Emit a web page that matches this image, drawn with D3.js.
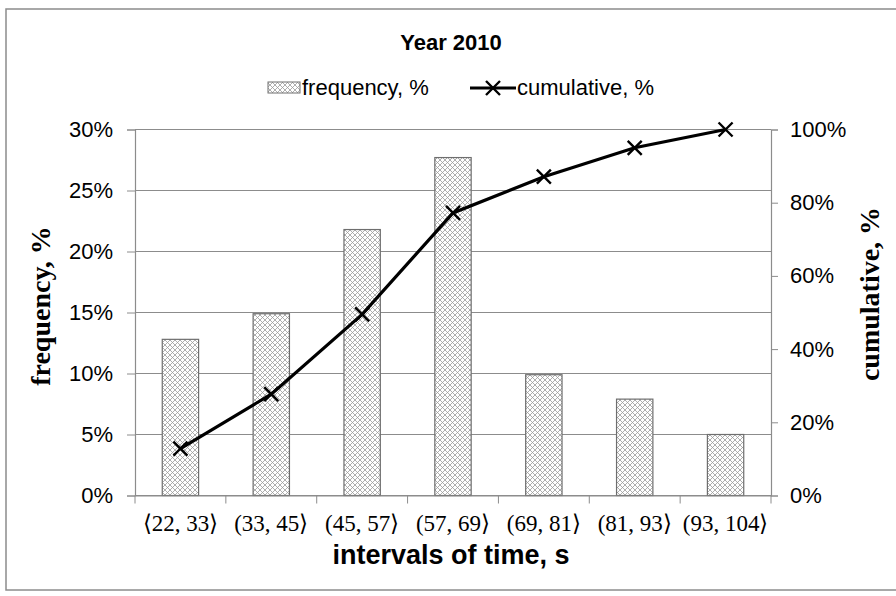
<!DOCTYPE html>
<html>
<head>
<meta charset="utf-8">
<script src="https://cdn.jsdelivr.net/npm/d3@7"></script>
<style>
  body { margin: 0; background: #fff; }
  text { font-family: "Liberation Sans", Arial, sans-serif; }
</style>
</head>
<body>
<svg width="896" height="596"></svg>
<script>
// data
const intervals = ['\u27E822, 33\u27E9', '(33, 45\u27E9', '(45, 57\u27E9', '(57, 69\u27E9', '(69, 81\u27E9', '(81, 93\u27E9', '(93, 104\u27E9'];
const frequency = [12.8, 14.9, 21.8, 27.7, 9.9, 7.9, 5.0];
const cumulative = [12.8, 27.7, 49.5, 77.2, 87.1, 95.0, 100];
const leftTicks = [0, 5, 10, 15, 20, 25, 30];
const rightTicks = [0, 20, 40, 60, 80, 100];

const svg = d3.select('svg');
const plotL = 135, plotR = 771, plotT = 129.5, plotB = 495.5;
const grey = '#8c8c8c';

// hatch pattern for bars
const defs = svg.append('defs');
const pat = defs.append('pattern')
    .attr('id', 'hatch')
    .attr('patternUnits', 'userSpaceOnUse')
    .attr('width', 5).attr('height', 5);
pat.append('rect').attr('width', 5).attr('height', 5).attr('fill', '#fff');
pat.append('path').attr('d', 'M0,0 L5,5 M5,0 L0,5')
    .attr('stroke', '#9a9a9a').attr('stroke-width', 0.8);

// outer frame
svg.append('rect')
    .attr('x', 6).attr('y', 9).attr('width', 900).attr('height', 581)
    .attr('fill', 'none').attr('stroke', grey).attr('stroke-width', 1.5);

let xScale = d3.scaleBand()
    .domain(intervals)
    .range([plotL, plotR])
    .paddingInner(0.6).paddingOuter(0.3);

let xBounds = d3.scaleBand().domain(intervals).range([plotL, plotR]);

let yLeft = d3.scaleLinear().domain([0, 30]).range([plotB, plotT]);
let yRight = d3.scaleLinear().domain([0, 100]).range([plotB, plotT]);

// gridlines
svg.append('g')
    .selectAll('line')
    .data(leftTicks)
    .enter()
    .append('line')
        .attr('x1', plotL).attr('x2', plotR)
        .attr('y1', d => yLeft(d)).attr('y2', d => yLeft(d))
        .attr('stroke', grey).attr('stroke-width', 1);

// bars
svg.append('g')
    .selectAll('rect')
    .data(frequency)
    .enter()
    .append('rect')
        .attr('x', (d, i) => xScale(intervals[i]))
        .attr('y', d => yLeft(d))
        .attr('width', xScale.bandwidth())
        .attr('height', d => plotB - yLeft(d))
        .attr('fill', 'url(#hatch)')
        .attr('stroke', '#6e6e6e').attr('stroke-width', 1.2);

// axes
const yAxisL = d3.axisLeft(yLeft).tickValues(leftTicks).tickFormat(d => d + '%').tickSize(8).tickPadding(14);
const yAxisR = d3.axisRight(yRight).tickValues(rightTicks).tickFormat(d => d + '%').tickSize(7).tickPadding(12);
const xAxis = d3.axisBottom(xBounds).tickSize(0).tickPadding(0);

const gl = svg.append('g').attr('transform', 'translate(' + plotL + ',0)').call(yAxisL);
const gr = svg.append('g').attr('transform', 'translate(' + plotR + ',0)').call(yAxisR);
[gl, gr].forEach(g => {
    g.select('.domain').attr('stroke', grey).attr('stroke-width', 1.2);
    g.selectAll('.tick line').attr('stroke', grey);
    g.selectAll('.tick text')
        .attr('fill', '#000')
        .style('font-family', '"Liberation Sans", Arial, sans-serif')
        .style('font-size', '22px');
});

const gx = svg.append('g').attr('transform', 'translate(0,' + plotB + ')').call(xAxis);
gx.select('.domain').attr('stroke', grey).attr('stroke-width', 1.2);
gx.selectAll('.tick text')
    .attr('dy', null)
    .attr('y', 35)
    .attr('fill', '#000')
    .style('font-family', '"Liberation Serif", "Times New Roman", serif')
    .style('font-size', '23px');
// category boundary ticks
const bounds = intervals.map(d => xBounds(d)).concat([plotR]);
gx.selectAll('.bound')
    .data(bounds)
    .enter()
    .append('line')
        .attr('x1', d => d).attr('x2', d => d)
        .attr('y1', 0).attr('y2', 8)
        .attr('stroke', grey);

// cumulative line
const line = d3.line()
    .x((d, i) => xScale(intervals[i]) + xScale.bandwidth() / 2)
    .y(d => yRight(d));

svg.append('path')
    .datum(cumulative)
    .attr('d', line)
    .attr('fill', 'none')
    .attr('stroke', '#000')
    .attr('stroke-width', 3.2);

const ms = 7;
function cross(g, cx, cy) {
    g.append('path')
        .attr('d', `M${cx - ms},${cy - ms}L${cx + ms},${cy + ms}M${cx + ms},${cy - ms}L${cx - ms},${cy + ms}`)
        .attr('stroke', '#000').attr('stroke-width', 2.4).attr('fill', 'none');
}
const markers = svg.append('g');
cumulative.forEach((d, i) => cross(markers, xScale(intervals[i]) + xScale.bandwidth() / 2, yRight(d)));

// title
svg.append('text')
    .attr('x', 451).attr('y', 50)
    .attr('text-anchor', 'middle')
    .style('font-size', '22px').style('font-weight', 'bold')
    .text('Year 2010');

// legend
const lg = svg.append('g');
lg.append('rect').attr('x', 268).attr('y', 82).attr('width', 32).attr('height', 11)
    .attr('fill', 'url(#hatch)').attr('stroke', '#6e6e6e').attr('stroke-width', 1);
lg.append('text').attr('x', 302).attr('y', 95).style('font-size', '22px').text('frequency, %');
lg.append('line').attr('x1', 470).attr('x2', 516).attr('y1', 88).attr('y2', 88)
    .attr('stroke', '#000').attr('stroke-width', 3.2);
cross(lg, 493, 88);
lg.append('text').attr('x', 517).attr('y', 95).style('font-size', '22px').text('cumulative, %');

// axis titles
svg.append('text')
    .attr('transform', 'translate(50,306) rotate(-90)')
    .attr('text-anchor', 'middle')
    .style('font-family', '"Liberation Serif", "Times New Roman", serif')
    .style('font-size', '28px').style('font-weight', 'bold')
    .text('frequency, %');

svg.append('text')
    .attr('transform', 'translate(879,294) rotate(-90)')
    .attr('text-anchor', 'middle')
    .style('font-family', '"Liberation Serif", "Times New Roman", serif')
    .style('font-size', '28px').style('font-weight', 'bold')
    .text('cumulative, %');

svg.append('text')
    .attr('x', 451).attr('y', 564)
    .attr('text-anchor', 'middle')
    .style('font-size', '27px').style('font-weight', 'bold')
    .text('intervals of time, s');
</script>
</body>
</html>
